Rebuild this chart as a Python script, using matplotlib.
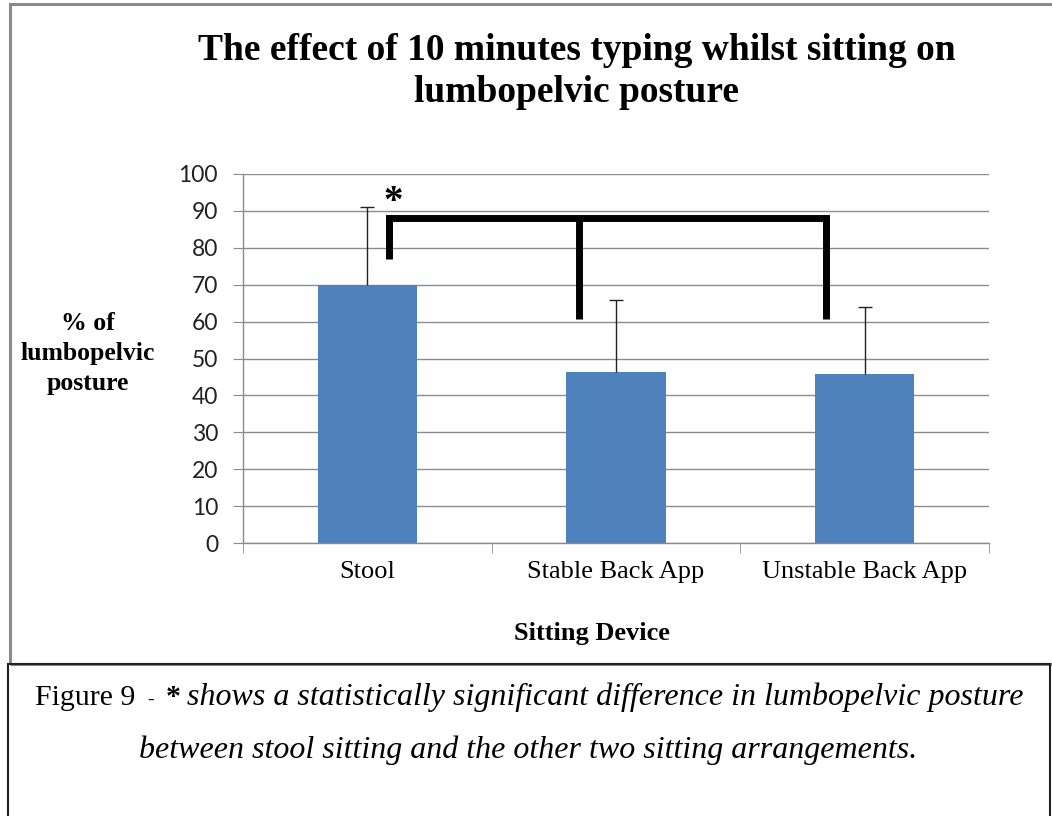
import matplotlib
matplotlib.use("Agg")
import matplotlib.pyplot as plt
from matplotlib.patches import Rectangle
import numpy as np

devices = ["Stool", "Stable Back App", "Unstable Back App"]
posture_pct = [70.0, 46.4, 45.8]
posture_sd = [21.1, 19.5, 18.2]
y_ticks = list(range(0, 101, 10))

title = "The effect of 10 minutes typing whilst sitting on\nlumbopelvic posture"
y_label = "% of\nlumbopelvic\nposture"
x_label = "Sitting Device"
caption_1 = "shows a statistically significant difference in lumbopelvic posture"
caption_2 = "between stool sitting and the other two sitting arrangements."

# significance bracket (data coords): stool leg, top bar, two right legs
bracket_x = [0.089, 0.089, 1.846, 1.846]
bracket_y = [76.9, 88.1, 88.1, 60.6]
mid_leg_x = [0.851, 0.851]
mid_leg_y = [88.1, 60.6]

plt.rcParams["font.family"] = "Liberation Serif"

W, H = 1052, 816
fig = plt.figure(figsize=(W / 100, H / 100), dpi=100)


def fx(px):
    return px / W


def fy(py):
    return 1 - py / H


# outer frames
fig.add_artist(Rectangle((fx(10), fy(664)), fx(1070 - 10), fy(4) - fy(664),
                         transform=fig.transFigure, fill=False,
                         edgecolor="#8a8a8a", lw=2.2))
fig.add_artist(Rectangle((fx(8), fy(840)), fx(1050 - 8), fy(664) - fy(840),
                         transform=fig.transFigure, fill=False,
                         edgecolor="#222222", lw=1.5))

ax = fig.add_axes([fx(243), fy(543), fx(989 - 243), fy(174) - fy(543)])

x = list(range(len(devices)))
ax.bar(x, posture_pct, width=0.4, color="#4F81BD", zorder=2)
eb = ax.errorbar(x, posture_pct, yerr=[[0] * len(x), posture_sd], fmt="none",
                 ecolor="#222222", elinewidth=1, capsize=4.7, capthick=1, zorder=3)
# only the upper cap is shown
for cap in eb[1]:
    if np.allclose(cap.get_ydata(), posture_pct):
        cap.set_visible(False)

ax.set_xlim(-0.5, 2.5)
ax.set_ylim(0, 100)
ax.set_yticks(y_ticks)
ax.set_xticks(x)
ax.set_xticklabels(devices, fontsize=19)
ax.set_xticks([-0.5, 0.5, 1.5, 2.5], minor=True)
ax.tick_params(axis="x", which="major", length=0, pad=13)
ax.tick_params(axis="x", which="minor", length=7, color="#8a8a8a", direction="out")
ax.tick_params(axis="y", length=7, color="#8a8a8a", direction="out", pad=11)
for lab in ax.get_yticklabels():
    lab.set_family("Lato")
    lab.set_fontsize(16.5)
    lab.set_color("#222222")

ax.yaxis.grid(True, color="#8c8c8c", lw=1)
ax.set_axisbelow(True)
for side in ["top", "right"]:
    ax.spines[side].set_visible(False)
for side in ["left", "bottom"]:
    ax.spines[side].set_color("#8a8a8a")
    ax.spines[side].set_linewidth(1)

# significance marker
ax.plot(bracket_x, bracket_y, color="black", lw=5,
        solid_joinstyle="miter", solid_capstyle="butt", zorder=4)
ax.plot(mid_leg_x, mid_leg_y, color="black", lw=5,
        solid_capstyle="butt", zorder=4)
ax.text(0.103, 89.6, "*", ha="center", va="baseline", fontsize=28,
        fontweight="bold", zorder=5)

# titles and labels (va="baseline" pins the last line)
fig.text(fx(577), fy(102), title, ha="center", va="baseline", fontsize=27,
         fontweight="bold", linespacing=1.26)
fig.text(fx(88), fy(390), y_label, ha="center", va="baseline", fontsize=18.5,
         fontweight="bold", linespacing=1.4)
fig.text(fx(592), fy(640), x_label, ha="center", va="baseline", fontsize=19,
         fontweight="bold")

# caption
fig.text(fx(35), fy(705), "Figure 9", ha="left", va="baseline", fontsize=21.5)
fig.text(fx(147), fy(705), "-", ha="left", va="baseline", fontsize=14)
fig.text(fx(166), fy(705), "*", ha="left", va="baseline", fontsize=21.5,
         fontweight="bold")
fig.text(fx(187), fy(705), caption_1, ha="left", va="baseline", fontsize=23,
         style="italic")
fig.text(fx(528), fy(758), caption_2, ha="center", va="baseline", fontsize=23,
         style="italic")

fig.savefig("out.png", dpi=100)
